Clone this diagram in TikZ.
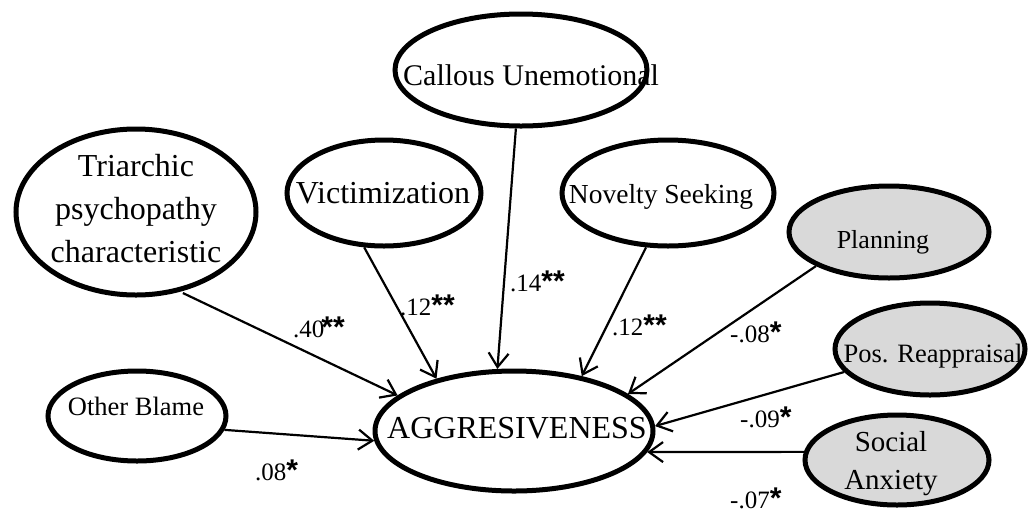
\documentclass[tikz,border=0pt]{standalone}
\usepackage{fontspec}
\setmainfont{Liberation Serif}
\newfontfamily\starfont{Liberation Sans}
\usetikzlibrary{shapes.geometric,arrows.meta}

\definecolor{ellgray}{HTML}{D9D9D9}

% significance stars after a coefficient
\newcommand\sig[2][0pt]{\kern#1{\fontsize{30}{30}\starfont\bfseries #2}}

\tikzset{
  latent/.style={ellipse, draw, line width=5pt, inner sep=0pt, fill=white},
  shaded/.style={latent, fill=ellgray},
  effect/.style={line width=2.2pt, -{Straight Barb[length=14pt,width=20pt]}},
  coef/.style={anchor=base west, inner sep=0pt, font=\fontsize{25}{30}\selectfont},
  txt/.style={anchor=base, inner sep=0pt, align=center}
}

\begin{document}
\begin{tikzpicture}[x=1pt,y=-1pt]
\useasboundingbox (0,0) rectangle (1030,515);

% latent variables
\node[latent, minimum width=240pt, minimum height=166pt] (tri) at (136,212) {};
\node[latent, minimum width=194pt, minimum height=106pt] (vic) at (384,193) {};
\node[latent, minimum width=252pt, minimum height=112pt] (cal) at (521,70) {};
\node[latent, minimum width=212pt, minimum height=106pt] (nov) at (668,193) {};
\node[shaded, minimum width=200pt, minimum height=92pt] (pla) at (889,232) {};
\node[shaded, minimum width=190pt, minimum height=92pt] (pos) at (930,349) {};
\node[shaded, minimum width=184pt, minimum height=90pt] (soc) at (897,460) {};
\node[latent, minimum width=178pt, minimum height=90pt] (oth) at (137,416) {};
\node[latent, minimum width=278pt, minimum height=120pt] (agg) at (514,431) {};

% variable names (base = baseline of the last line)
\node[txt, font=\fontsize{32}{43}\selectfont] (tri-t) at (136,262) {Triarchic\\psychopathy\\characteristic};
\node[txt, font=\fontsize{32}{38}\selectfont] (vic-t) at (383,203) {Victimization};
\node[txt, anchor=base west, font=\fontsize{30}{36}\selectfont] (cal-t) at (403,85) {Callous Unemotional};
\node[txt, font=\fontsize{27.5}{33}\selectfont] (nov-t) at (661,203) {Novelty Seeking};
\node[txt, font=\fontsize{26}{31}\selectfont] (pla-t) at (883,248) {Planning};
\node[txt, font=\fontsize{26.5}{32}\selectfont] (pos-t) at (933,362) {Pos. Reappraisal};
\node[txt, font=\fontsize{29}{38}\selectfont] (soc-t) at (891,489) {Social\\Anxiety};
\node[txt, font=\fontsize{26.5}{32}\selectfont] (oth-t) at (136,415) {Other Blame};
\node[txt, font=\fontsize{32}{38}\selectfont] (agg-t) at (517,438) {AGGRESIVENESS};

% paths into the outcome
\draw[effect, shorten <=3pt] (tri.-61) -- (agg.163);
\draw[effect] (vic.-110) -- (agg.146);
\draw[effect] (cal.-95) -- (agg.105);
\draw[effect] (nov.-112) -- (agg.39);
\draw[effect] (pla.-155) -- (agg.18);
\draw[effect] (pos.-165) -- (agg.2);
\draw[effect] (soc.175) -- (agg.-9);
\draw[effect] (oth.-9) -- (agg.-176);

% path coefficients
\node[coef] (c-tri) at (293,337) {.40\sig[-3pt]{**}};
\node[coef] (c-vic) at (400,315) {.12\sig{**}};
\node[coef] (c-cal) at (510,291) {.14\sig{**}};
\node[coef] (c-nov) at (612,335) {.12\sig{**}};
\node[coef] (c-pla) at (730,342) {-.08\sig{*}};
\node[coef] (c-pos) at (740,427) {-.09\sig{*}};
\node[coef] (c-soc) at (730,508) {-.07\sig{*}};
\node[coef] (c-oth) at (255,480) {.08\sig{*}};
\end{tikzpicture}
\end{document}
